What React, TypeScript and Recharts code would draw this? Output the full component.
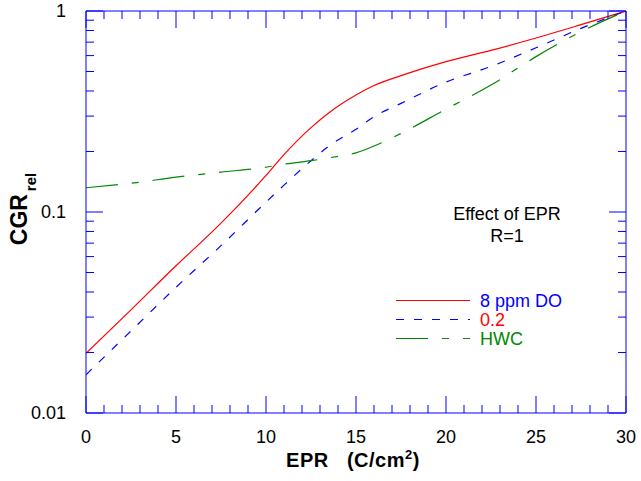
import { Legend, Line, LineChart, XAxis, YAxis } from "recharts";

// EPR (C/cm2) sample points and relative CGR
const epr = [0, 2.5, 5, 7.5, 10, 11, 12.5, 13.5, 15, 16, 17.5, 20, 22.5, 25, 27.5, 30];
const cgr8ppmDO = [0.0198, 0.0326, 0.054, 0.088, 0.152, 0.193, 0.263, 0.312, 0.382, 0.426, 0.477, 0.56, 0.637, 0.734, 0.855, 1.0];
const cgr02 = [0.0155, 0.0256, 0.0422, 0.068, 0.112, 0.136, 0.18, 0.213, 0.258, 0.298, 0.347, 0.443, 0.53, 0.656, 0.82, 1.0];
const cgrHwc = [0.132, 0.139, 0.149, 0.158, 0.167, 0.173, 0.18, 0.186, 0.197, 0.213, 0.246, 0.325, 0.428, 0.593, 0.789, 1.0];

const xTicks = [0, 1, 2, 3, 4, 5, 6, 7, 8, 9, 10, 11, 12, 13, 14, 15, 16, 17, 18, 19, 20, 21, 22, 23, 24, 25, 26, 27, 28, 29, 30];
const xLabels = [0, 5, 10, 15, 20, 25, 30];
const yTicks = [
  0.01, 0.02, 0.03, 0.04, 0.05, 0.06, 0.07, 0.08, 0.09,
  0.1, 0.2, 0.3, 0.4, 0.5, 0.6, 0.7, 0.8, 0.9, 1,
];
const yLabels = [0.01, 0.1, 1];

const rows = epr.map((x, i) => ({ epr: x, do8: cgr8ppmDO[i], do02: cgr02[i], hwc: cgrHwc[i] }));

const series = [
  { key: "do8", name: "8 ppm DO", stroke: "#ff0000", dash: undefined, text: "#0000ff" },
  { key: "do02", name: "0.2", stroke: "#0000ff", dash: "8 10", text: "#ff0000" },
  { key: "hwc", name: "HWC", stroke: "#008800", dash: "32 14 7 14", text: "#008800" },
];

const FRAME = "#0000ff";
const FONT = "'Liberation Sans', Arial, sans-serif";
const MAJOR = 17;
const MINOR = 8;
const X_MARGIN = 17;
const Y_MARGIN = 20;

const BottomTick = (props: any) => {
  const { x, y, payload } = props;
  const major = xLabels.includes(payload.value);
  const axisY = y - X_MARGIN;
  return (
    <g>
      <line x1={x} x2={x} y1={axisY} y2={axisY - (major ? MAJOR : MINOR)} stroke={FRAME} />
      {major && (
        <text x={x} y={y} dy="0.71em" textAnchor="middle" fontSize={18} fontFamily={FONT} fill="#000">
          {payload.value}
        </text>
      )}
    </g>
  );
};

const TopTick = (props: any) => {
  const { x, y, payload } = props;
  const major = xLabels.includes(payload.value);
  return <line x1={x} x2={x} y1={y} y2={y + (major ? MAJOR : MINOR)} stroke={FRAME} />;
};

const LeftTick = (props: any) => {
  const { x, y, payload } = props;
  const major = yLabels.includes(payload.value);
  const axisX = x + Y_MARGIN;
  return (
    <g>
      <line x1={axisX} x2={axisX + (major ? MAJOR : MINOR)} y1={y} y2={y} stroke={FRAME} />
      {major && (
        <text x={x} y={y} dy="0.355em" textAnchor="end" fontSize={18} fontFamily={FONT} fill="#000">
          {String(payload.value)}
        </text>
      )}
    </g>
  );
};

const RightTick = (props: any) => {
  const { x, y, payload } = props;
  const major = yLabels.includes(payload.value);
  return <line x1={x} x2={x - (major ? MAJOR : MINOR)} y1={y} y2={y} stroke={FRAME} />;
};

const XTitle = (props: any) => {
  const vb = props.viewBox;
  return (
    <text
      x={vb.x + vb.width / 2 - 3}
      y={vb.y + 54}
      textAnchor="middle"
      fontSize={20}
      fontWeight="bold"
      fontFamily={FONT}
      fill="#000"
      letterSpacing={0.5}
      style={{ whiteSpace: "pre" }}
    >
      {"EPR   (C/cm"}
      <tspan fontSize={13} dy={-8}>2</tspan>
      <tspan dy={8}>)</tspan>
    </text>
  );
};

const YTitle = (props: any) => {
  const vb = props.viewBox;
  const cx = 27;
  const cy = vb.y + vb.height / 2 - 3;
  return (
    <text
      x={cx}
      y={cy}
      transform={`rotate(-90, ${cx}, ${cy})`}
      textAnchor="middle"
      fontSize={23}
      fontWeight="bold"
      fontFamily={FONT}
      fill="#000"
    >
      CGR
      <tspan fontSize={15} dx={3} dy={9}>rel</tspan>
    </text>
  );
};

const LegendBox = () => (
  <svg width={200} height={165} style={{ display: "block", overflow: "visible" }}>
    <text x={127} y={30} textAnchor="middle" fontSize={18} fontFamily={FONT} fill="#000">
      Effect of EPR
    </text>
    <text x={127} y={51.5} textAnchor="middle" fontSize={18} fontFamily={FONT} fill="#000">
      R=1
    </text>
    {series.map((s, i) => (
      <g key={s.key}>
        <line x1={16} x2={90} y1={110.5 + i * 19} y2={110.5 + i * 19} stroke={s.stroke} strokeDasharray={s.dash} />
        <text x={100} y={116.5 + i * 19} fontSize={18} fontFamily={FONT} fill={s.text}>
          {s.name}
        </text>
      </g>
    ))}
  </svg>
);

export default function App() {
  return (
    <div style={{ position: "absolute", left: 0, top: 0, width: 641, height: 481, background: "#fff" }}>
      <LineChart width={641} height={481} data={rows} margin={{ top: 0, right: 0, bottom: 0, left: 0 }}>
        <XAxis
          xAxisId="b"
          dataKey="epr"
          type="number"
          domain={[0, 30]}
          allowDataOverflow
          ticks={xTicks}
          interval={0}
          orientation="bottom"
          height={68}
          tickSize={0}
          tickMargin={X_MARGIN}
          tickLine={false}
          axisLine={{ stroke: FRAME }}
          tick={BottomTick}
          label={XTitle}
        />
        <XAxis
          xAxisId="t"
          dataKey="epr"
          type="number"
          domain={[0, 30]}
          allowDataOverflow
          ticks={xTicks}
          interval={0}
          orientation="top"
          height={11}
          tickSize={0}
          tickMargin={0}
          tickLine={false}
          axisLine={{ stroke: FRAME }}
          tick={TopTick}
        />
        <YAxis
          yAxisId="l"
          type="number"
          scale="log"
          domain={[0.01, 1]}
          allowDataOverflow
          ticks={yTicks}
          interval={0}
          width={86}
          tickSize={0}
          tickMargin={Y_MARGIN}
          tickLine={false}
          axisLine={{ stroke: FRAME }}
          tick={LeftTick}
          label={YTitle}
        />
        <YAxis
          yAxisId="r"
          orientation="right"
          type="number"
          scale="log"
          domain={[0.01, 1]}
          allowDataOverflow
          ticks={yTicks}
          interval={0}
          width={15}
          tickSize={0}
          tickMargin={0}
          tickLine={false}
          axisLine={{ stroke: FRAME }}
          tick={RightTick}
        />
        <Legend
          layout="horizontal"
          verticalAlign="middle"
          align="center"
          wrapperStyle={{ left: 380, top: 190, width: 200, height: 165 }}
          content={LegendBox}
        />
        {series.map((s) => (
          <Line
            key={s.key}
            xAxisId="b"
            yAxisId="l"
            dataKey={s.key}
            name={s.name}
            type="monotone"
            stroke={s.stroke}
            strokeWidth={1.2}
            strokeDasharray={s.dash}
            dot={false}
            activeDot={false}
            isAnimationActive={false}
          />
        ))}
      </LineChart>
    </div>
  );
}
